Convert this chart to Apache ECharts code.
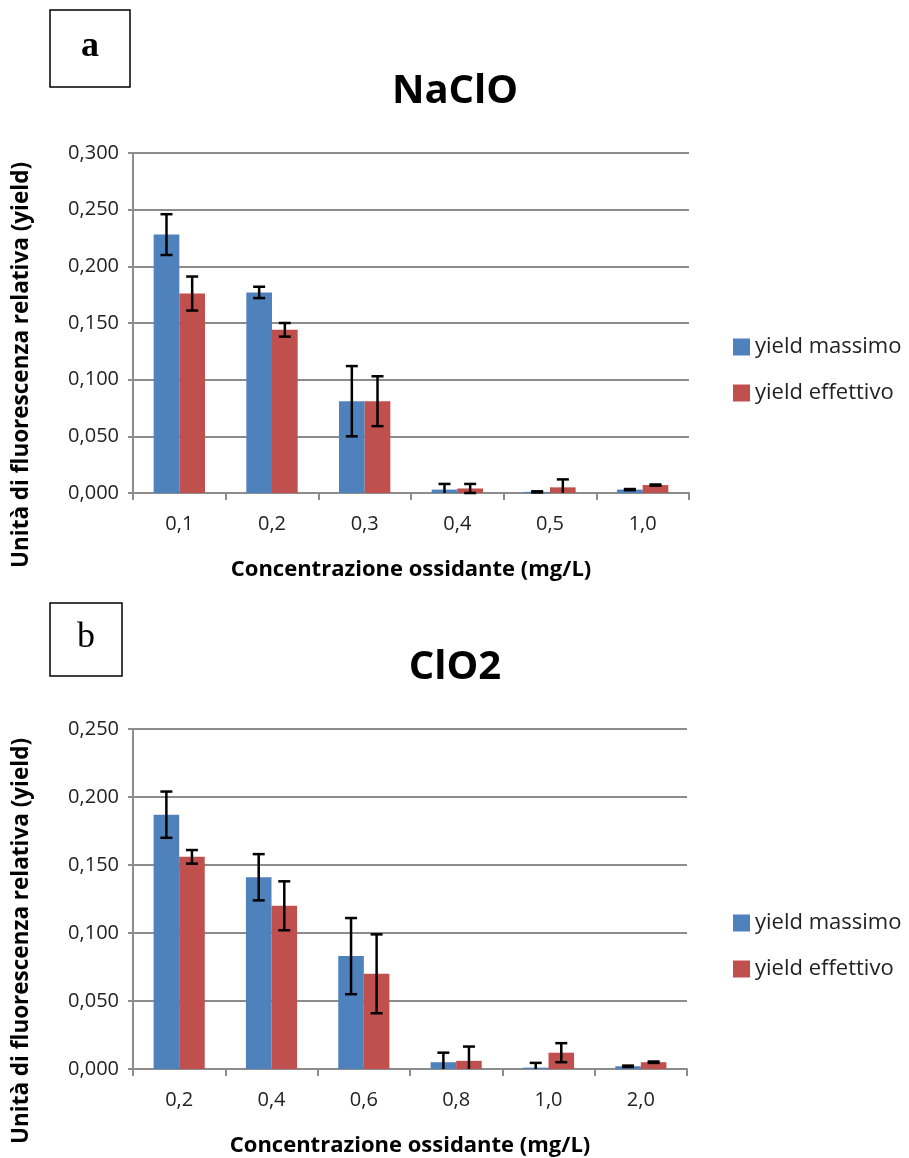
<!DOCTYPE html>
<html>
<head>
<meta charset="utf-8">
<script src="https://cdn.jsdelivr.net/npm/echarts@6/dist/echarts.min.js"></script>
<style>
html,body{margin:0;padding:0;background:#fff;}
#chart{width:909px;height:1158px;}
</style>
</head>
<body>
<div id="chart"></div>
<script>
// ---------- DATA ----------
const seriesNames = ['yield massimo', 'yield effettivo'];

const titleA = 'NaClO';
const catsA = ['0,1', '0,2', '0,3', '0,4', '0,5', '1,0'];
const massimoA = [0.228, 0.177, 0.081, 0.003, 0.001, 0.003];
const massimoErrA = [0.018, 0.005, 0.031, 0.005, 0.0005, 0.0005];
const effettivoA = [0.176, 0.144, 0.081, 0.004, 0.005, 0.007];
const effettivoErrA = [0.015, 0.006, 0.022, 0.004, 0.007, 0.0005];
const yMaxA = 0.300;

const titleB = 'ClO2';
const catsB = ['0,2', '0,4', '0,6', '0,8', '1,0', '2,0'];
const massimoB = [0.187, 0.141, 0.083, 0.005, 0.001, 0.002];
const massimoErrB = [0.017, 0.017, 0.028, 0.007, 0.0035, 0.0005];
const effettivoB = [0.156, 0.120, 0.070, 0.006, 0.012, 0.005];
const effettivoErrB = [0.005, 0.018, 0.029, 0.0105, 0.007, 0.0005];
const yMaxB = 0.250;

const yInterval = 0.05;
const xTitle = 'Concentrazione ossidante (mg/L)';
const yTitle = 'Unità di fluorescenza relativa (yield)';
const panelLabels = ['a', 'b'];

// ---------- STYLE ----------
const BLUE = '#4F81BD', RED = '#C0504D', GRIDC = '#8c8c8c';
const FONT = '"Open Sans", sans-serif';
const BAR_FRAC = 0.277;

function errRender(params, api) {
  const i = api.value(0), v = api.value(1), e = api.value(2), side = api.value(3);
  const band = api.size([1, 0])[0];
  const bw = band * BAR_FRAC;
  const x = api.coord([i, 0])[0] + side * bw / 2;
  const hiY = api.coord([i, v + e])[1];
  const loV = v - e;
  const loY = api.coord([i, Math.max(loV, 0)])[1];
  const cap = 6;
  const st = {stroke: '#000', lineWidth: 2.5};
  const children = [
    {type: 'line', shape: {x1: x, y1: hiY, x2: x, y2: loY}, style: st},
    {type: 'line', shape: {x1: x - cap, y1: hiY, x2: x + cap, y2: hiY}, style: st}
  ];
  if (loV >= 0) children.push({type: 'line', shape: {x1: x - cap, y1: loY, x2: x + cap, y2: loY}, style: st});
  return {type: 'group', children: children};
}

function errData(vals, errs, side) {
  return vals.map((v, i) => [i, v, errs[i], side]);
}

function xAxisCfg(cats, gi) {
  return {
    type: 'category', gridIndex: gi, data: cats,
    axisLine: {lineStyle: {color: GRIDC, width: 2}},
    axisTick: {show: true, length: 7, lineStyle: {color: GRIDC, width: 2}},
    axisLabel: {color: '#222', fontFamily: FONT, fontSize: 20, margin: 21},
    name: xTitle, nameLocation: 'middle', nameGap: 66,
    nameTextStyle: {color: '#000', fontFamily: FONT, fontSize: 22, fontWeight: 'bold'}
  };
}
function yAxisCfg(max, gi) {
  return {
    type: 'value', gridIndex: gi, min: 0, max: max, interval: yInterval,
    axisLine: {show: true, lineStyle: {color: GRIDC, width: 2}},
    axisTick: {show: true, length: 5, lineStyle: {color: GRIDC, width: 2}},
    splitLine: {lineStyle: {color: GRIDC, width: 2}},
    axisLabel: {color: '#222', fontFamily: FONT, fontSize: 20, margin: 14,
      formatter: v => v.toFixed(3).replace('.', ',')}
  };
}
function barSeries(name, vals, color, gi) {
  return {
    type: 'bar', name: name, xAxisIndex: gi, yAxisIndex: gi, data: vals,
    barWidth: (BAR_FRAC * 100) + '%', barGap: '0%',
    itemStyle: {color: color}, emphasis: {disabled: true}, animation: false
  };
}
function errSeries(vals, errs, side, gi) {
  return {
    type: 'custom', xAxisIndex: gi, yAxisIndex: gi, renderItem: errRender,
    data: errData(vals, errs, side), z: 10, animation: false, silent: true
  };
}
function legendCfg(top) {
  return {
    orient: 'vertical', left: 728, top: top, data: seriesNames,
    icon: 'rect', itemWidth: 17, itemHeight: 17, itemGap: 24,
    textStyle: {color: '#222', fontFamily: FONT, fontSize: 22}
  };
}

const option = {
  backgroundColor: '#fff',
  animation: false,
  grid: [
    {left: 133, top: 153, width: 556, height: 340},
    {left: 133, top: 729, width: 554, height: 340}
  ],
  xAxis: [xAxisCfg(catsA, 0), xAxisCfg(catsB, 1)],
  yAxis: [yAxisCfg(yMaxA, 0), yAxisCfg(yMaxB, 1)],
  legend: [legendCfg(331), legendCfg(907)],
  series: [
    barSeries(seriesNames[0], massimoA, BLUE, 0),
    barSeries(seriesNames[1], effettivoA, RED, 0),
    errSeries(massimoA, massimoErrA, -1, 0),
    errSeries(effettivoA, effettivoErrA, 1, 0),
    barSeries(seriesNames[0], massimoB, BLUE, 1),
    barSeries(seriesNames[1], effettivoB, RED, 1),
    errSeries(massimoB, massimoErrB, -1, 1),
    errSeries(effettivoB, effettivoErrB, 1, 1)
  ],
  graphic: [
    {type: 'text', x: 455, y: 92, style: {text: titleA, fontFamily: FONT, fontSize: 40, fontWeight: 'bold', fill: '#000', textAlign: 'center', textVerticalAlign: 'middle'}},
    {type: 'text', x: 455, y: 668, style: {text: titleB, fontFamily: FONT, fontSize: 40, fontWeight: 'bold', fill: '#000', textAlign: 'center', textVerticalAlign: 'middle'}},
    {type: 'text', x: 22, y: 365, rotation: Math.PI / 2, style: {text: yTitle, fontFamily: FONT, fontSize: 22.5, fontWeight: 'bold', fill: '#000', textAlign: 'center', textVerticalAlign: 'middle'}},
    {type: 'text', x: 22, y: 941, rotation: Math.PI / 2, style: {text: yTitle, fontFamily: FONT, fontSize: 22.5, fontWeight: 'bold', fill: '#000', textAlign: 'center', textVerticalAlign: 'middle'}},
    {type: 'rect', shape: {x: 50, y: 10, width: 80, height: 77}, style: {fill: '#fff', stroke: '#000', lineWidth: 1.5}},
    {type: 'text', x: 90, y: 47, style: {text: panelLabels[0], fontFamily: '"Liberation Serif", serif', fontSize: 36, fontWeight: 'bold', fill: '#000', textAlign: 'center', textVerticalAlign: 'middle'}},
    {type: 'rect', shape: {x: 50, y: 603, width: 72, height: 73}, style: {fill: '#fff', stroke: '#000', lineWidth: 1.5}},
    {type: 'text', x: 86, y: 638, style: {text: panelLabels[1], fontFamily: '"Liberation Serif", serif', fontSize: 36, fill: '#000', textAlign: 'center', textVerticalAlign: 'middle'}}
  ]
};

const chart = echarts.init(document.getElementById('chart'), null, {renderer: 'canvas'});
chart.setOption(option);
</script>
</body>
</html>
